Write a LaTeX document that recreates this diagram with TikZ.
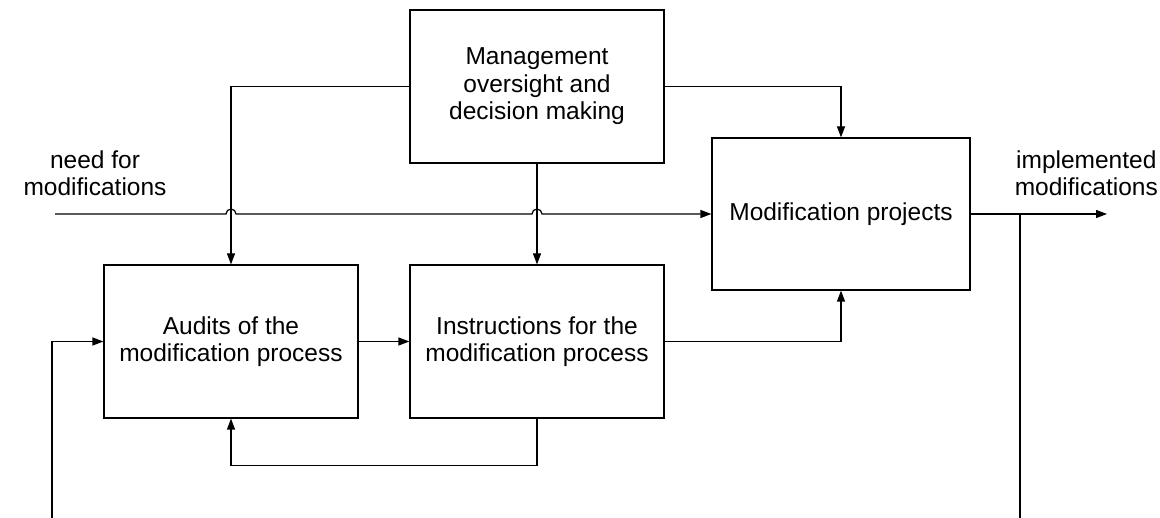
\documentclass[tikz,border=0pt]{standalone}
\usepackage{fontspec}
\setmainfont{Liberation Sans}
\usetikzlibrary{arrows.meta,calc}
\begin{document}
\begin{tikzpicture}[x=1pt,y=1pt,
  box/.style={draw, line width=1.2pt, minimum width=254pt, minimum height=153pt, align=center, inner sep=0pt, font=\fontsize{24.5}{27.5}\selectfont},
  lbl/.style={align=center, inner sep=0pt, font=\fontsize{24.5}{27}\selectfont},
  conn/.style={line width=1.2pt},
  arr/.style={conn, -{Triangle[length=11pt,width=8pt]}}]
\useasboundingbox (0,0) rectangle (1160,-518);
\node[box] (M) at (537,-86.5) {Management\\oversight and\\decision making};
\node[box, minimum width=258pt, minimum height=152pt] (P) at (841,-214) {Modification projects};
\node[box] (A) at (231,-341.5) {Audits of the\\modification process};
\node[box] (I) at (537,-341.5) {Instructions for the\\modification process};
\node[lbl] (need) at (95,-173) {need for\\modifications};
\node[lbl, anchor=east] (impl) at (1158,-173) {implemented\\modifications};
\coordinate (inS) at (55,-214);
\coordinate (outE) at (1107,-214);
\coordinate (fb) at (1020,-214);
\coordinate (fbEnd) at (1020,-518);
\coordinate (lfStart) at (52,-518);
\draw[arr] (inS) -- ($(inS -| A.north)+(-5,0)$) arc(180:0:5) -- ($(inS -| I.north)+(-5,0)$) arc(180:0:5) -- (P.west);
\draw[arr] (M.west) -| (A.north);
\draw[arr] (M.east) -| (P.north);
\draw[arr] (M.south) -- (I.north);
\draw[arr] (A.east) -- (I.west);
\draw[arr] (I.east) -| (P.south);
\draw[arr] (I.south) -- ++(0,-47) -| (A.south);
\draw[arr] (P.east) -- (outE);
\draw[conn] (fb) -- (fbEnd);
\draw[arr] (lfStart) |- (A.west);
\end{tikzpicture}
\end{document}
